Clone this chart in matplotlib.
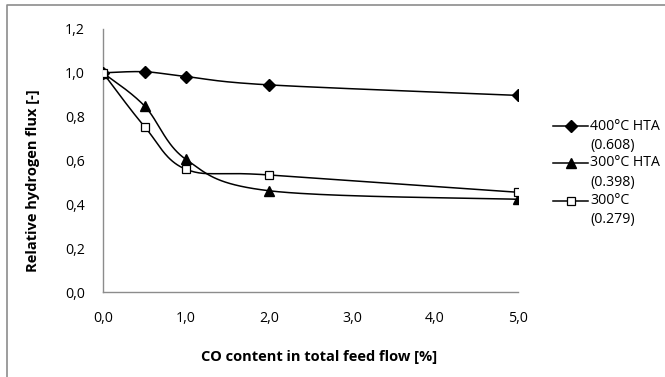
import numpy as np
import matplotlib.pyplot as plt
from matplotlib.lines import Line2D

plt.rcParams['font.family'] = ['Open Sans', 'DejaVu Sans']

co_content = [0.0, 0.5, 1.0, 2.0, 5.0]
flux_400_hta = [1.0, 1.005, 0.983, 0.945, 0.897]
flux_300_hta = [1.0, 0.849, 0.605, 0.462, 0.423]
flux_300 = [1.0, 0.755, 0.560, 0.534, 0.455]

series_names = ['400°C HTA', '300°C HTA', '300°C']
series_notes = ['(0.608)', '(0.398)', '(0.279)']

x_ticks = [0, 1, 2, 3, 4, 5]
y_ticks = [0.0, 0.2, 0.4, 0.6, 0.8, 1.0, 1.2]

FS = 10.2
LABEL_FS = 10.5


def smooth(x, y, n=40):
    # Catmull-Rom style bezier through every point, like a spreadsheet "smoothed line"
    p = np.column_stack([x, y]).astype(float)
    ext = np.vstack([p[0], p, p[-1]])
    out = []
    t = np.linspace(0, 1, n)[:, None]
    for i in range(len(p) - 1):
        p0, p1, p2, p3 = ext[i], ext[i + 1], ext[i + 2], ext[i + 3]
        c1 = p1 + (p2 - p0) / 6
        c2 = p2 - (p3 - p1) / 6
        seg = ((1 - t) ** 3) * p1 + 3 * ((1 - t) ** 2) * t * c1 \
            + 3 * (1 - t) * t ** 2 * c2 + t ** 3 * p2
        out.append(seg if i == 0 else seg[1:])
    pts = np.vstack(out)
    return pts[:, 0], pts[:, 1]


fig = plt.figure(figsize=(6.65, 3.77), dpi=100)
ax = fig.add_axes([103 / 665, 1 - 292 / 377, 415 / 665, 263 / 377])

styles = [
    dict(marker='D', ms=6.2, mfc='black', mec='black'),
    dict(marker='^', ms=7.2, mfc='black', mec='black'),
    dict(marker='s', ms=5.5, mfc='white', mec='black', mew=0.9),
]

for yv, st in zip([flux_400_hta, flux_300_hta, flux_300], styles):
    sx, sy = smooth(co_content, yv)
    ax.plot(sx, sy, color='black', lw=1.1, zorder=2)
    ax.plot(co_content, yv, ls='none', zorder=3, **st)

ax.set_xlim(0, 5)
ax.set_ylim(0, 1.2)
ax.set_xticks(x_ticks)
ax.set_yticks(y_ticks)
ax.set_xticklabels([f'{v:.1f}'.replace('.', ',') for v in x_ticks])
ax.set_yticklabels([f'{v:.1f}'.replace('.', ',') for v in y_ticks])
ax.tick_params(length=0, labelsize=FS, colors='black')
ax.tick_params(axis='y', pad=13)
ax.tick_params(axis='x', pad=14)

for side in ['top', 'right']:
    ax.spines[side].set_visible(False)
for side in ['left', 'bottom']:
    ax.spines[side].set_color('#8c8c8c')
    ax.spines[side].set_linewidth(1.0)

fig.text(319 / 665, 1 - 357 / 377, 'CO content in total feed flow [%]',
         ha='center', va='center', fontsize=LABEL_FS, fontweight='bold')
fig.text(33 / 665, 1 - 181 / 377, 'Relative hydrogen flux [-]', rotation=90,
         ha='center', va='center', fontsize=LABEL_FS, fontweight='bold')

# legend drawn by hand so the marker lines up with the first text line
row_y = [126, 163, 201]
for name, note, st, ry in zip(series_names, series_notes, styles, row_y):
    yf = 1 - ry / 377
    fig.add_artist(Line2D([553 / 665, 588 / 665], [yf, yf], color='black', lw=1.1,
                          transform=fig.transFigure))
    fig.add_artist(Line2D([570.5 / 665], [yf], color='black', ls='none',
                          transform=fig.transFigure, **st))
    fig.text(590 / 665, yf, name, ha='left', va='center', fontsize=FS)
    fig.text(590 / 665, 1 - (ry + 19) / 377, note, ha='left', va='center', fontsize=FS)

# outer chart frame
fig.add_artist(Line2D([7 / 665, 7 / 665, 1.0], [0.0, 1 - 5 / 377, 1 - 5 / 377],
                      color='#8c8c8c', lw=1.2, transform=fig.transFigure))

fig.savefig('out.png', dpi=100)
